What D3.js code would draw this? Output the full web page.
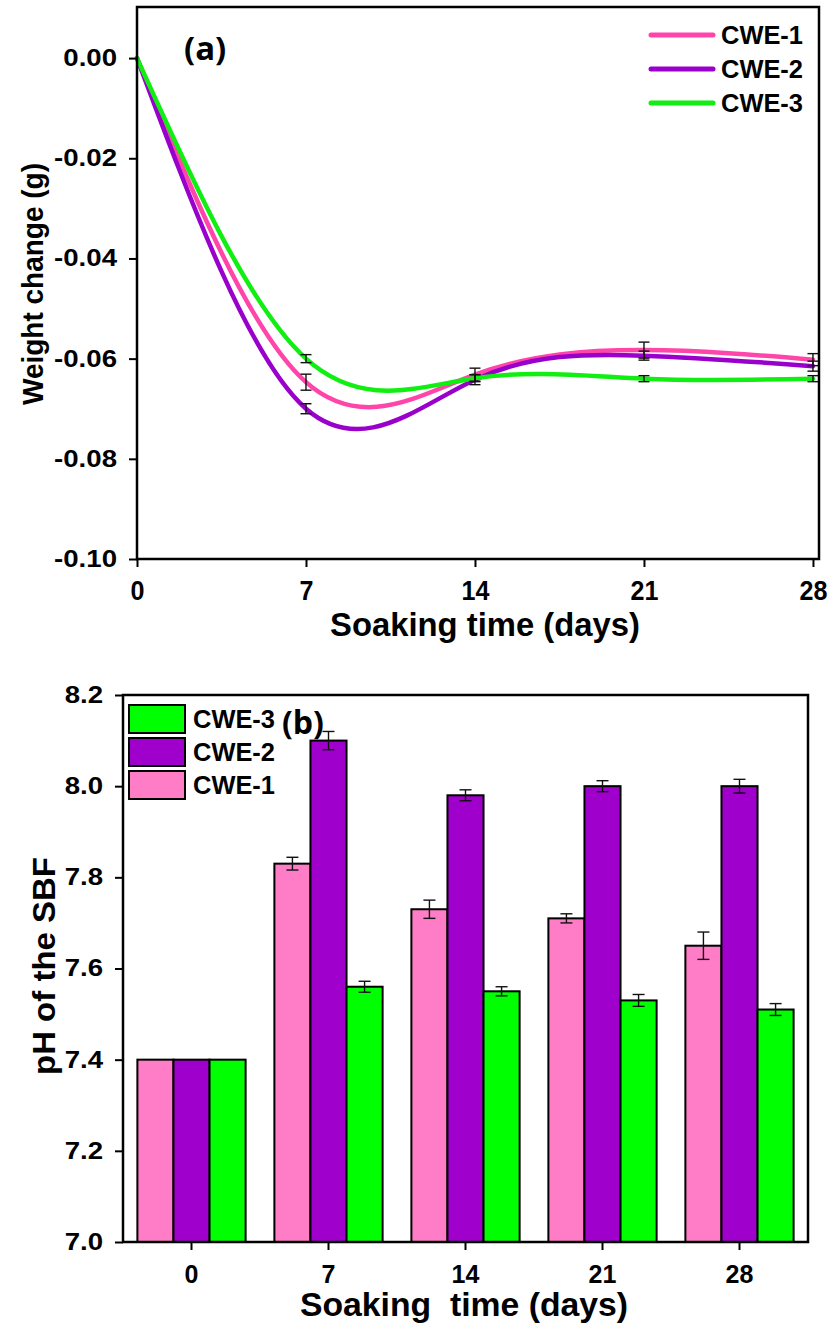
<!DOCTYPE html>
<html>
<head>
<meta charset="utf-8">
<script src="https://cdn.jsdelivr.net/npm/d3@7"></script>
<style>
  html, body { margin: 0; padding: 0; background: #fff; }
  svg { display: block; }
  text { font-family: "Liberation Sans", Arial, sans-serif; font-weight: bold; fill: #000; }
</style>
</head>
<body>
<svg id="fig" width="829" height="1324"></svg>
<script>
// ---------- data ----------
const days = [0, 7, 14, 21, 28];
const seriesNames = ["CWE-1", "CWE-2", "CWE-3"];
const seriesColors = ["#ff45aa", "#9a00cc", "#11ee11"];
const barColors = ["#ff7dc6", "#a000cc", "#00ff00"];

// (a) weight change (g) and its error
const weightCWE1 = [0, -0.0647, -0.0632, -0.0583, -0.0602];
const weightCWE2 = [0, -0.0700, -0.0642, -0.0594, -0.0615];
const weightCWE3 = [0, -0.0600, -0.0639, -0.0640, -0.0640];
const weightErrCWE1 = [0, 0.0016, 0.0013, 0.0016, 0.0012];
const weightErrCWE2 = [0, 0.0010, 0.0010, 0.0009, 0.0010];
const weightErrCWE3 = [0, 0.0008, 0.0007, 0.0006, 0.0006];
const weightTicks = [0.00, -0.02, -0.04, -0.06, -0.08, -0.10];

// (b) pH of the SBF and its error
const phCWE1 = [7.40, 7.83, 7.73, 7.71, 7.65];
const phCWE2 = [7.40, 8.10, 7.98, 8.00, 8.00];
const phCWE3 = [7.40, 7.56, 7.55, 7.53, 7.51];
const phErrCWE1 = [0, 0.014, 0.020, 0.010, 0.030];
const phErrCWE2 = [0, 0.020, 0.012, 0.012, 0.015];
const phErrCWE3 = [0, 0.012, 0.010, 0.013, 0.013];
const phTicks = [7.0, 7.2, 7.4, 7.6, 7.8, 8.0, 8.2];

const svg = d3.select("#fig");

// stretch or squeeze a text element horizontally by a factor
function widen(sel, factor) {
  sel.each(function () {
    const w = this.getComputedTextLength();
    d3.select(this).attr("textLength", w * factor).attr("lengthAdjust", "spacingAndGlyphs");
  });
}
// fit a text element to a given length
function fitTo(sel, len) {
  sel.attr("textLength", len).attr("lengthAdjust", "spacingAndGlyphs");
}

function styleAxis(ax, size, factor) {
  ax.select(".domain").remove();
  ax.selectAll(".tick line").attr("stroke", "#000").attr("stroke-width", 2);
  const t = ax.selectAll(".tick text").attr("font-size", size).attr("fill", "#000")
    .style("font-family", '"Liberation Sans", Arial, sans-serif').style("font-weight", "bold");
  widen(t, factor);
}

// ================= (a) line chart =================
const A = { left: 137, right: 819, top: 7, bottom: 559 };
const xA = d3.scaleLinear().domain([0, 28.25]).range([A.left, A.right]);
const yA = d3.scaleLinear().domain([-0.10, 0.0102]).range([A.bottom, A.top]);

const gA = svg.append("g");

const weightSeries = [
  { name: seriesNames[0], color: seriesColors[0], vals: weightCWE1, err: weightErrCWE1 },
  { name: seriesNames[1], color: seriesColors[1], vals: weightCWE2, err: weightErrCWE2 },
  { name: seriesNames[2], color: seriesColors[2], vals: weightCWE3, err: weightErrCWE3 }
];

const lineA = d3.line()
  .x((d, i) => xA(days[i]))
  .y(d => yA(d))
  .curve(d3.curveNatural);

gA.selectAll("path.series")
  .data(weightSeries)
  .join("path")
  .attr("class", "series")
  .attr("fill", "none")
  .attr("stroke", d => d.color)
  .attr("stroke-width", 4.5)
  .attr("stroke-linecap", "round")
  .attr("d", d => lineA(d.vals));

// error bars
weightSeries.forEach(s => {
  const pts = days.map((dd, i) => ({ x: dd, v: s.vals[i], e: s.err[i] })).filter(p => p.e > 0);
  const g = gA.append("g").attr("stroke", "#111").attr("stroke-width", 1.4).attr("fill", "none");
  pts.forEach(p => {
    const cx = xA(p.x);
    g.append("line").attr("x1", cx).attr("x2", cx).attr("y1", yA(p.v + p.e)).attr("y2", yA(p.v - p.e));
    g.append("line").attr("x1", cx - 5.5).attr("x2", cx + 5.5).attr("y1", yA(p.v + p.e)).attr("y2", yA(p.v + p.e));
    g.append("line").attr("x1", cx - 5.5).attr("x2", cx + 5.5).attr("y1", yA(p.v - p.e)).attr("y2", yA(p.v - p.e));
  });
});

// frame
gA.append("rect")
  .attr("x", A.left).attr("y", A.top)
  .attr("width", A.right - A.left).attr("height", A.bottom - A.top)
  .attr("fill", "none").attr("stroke", "#000").attr("stroke-width", 2.5);

// axes
const axAx = gA.append("g").attr("transform", `translate(0,${A.bottom})`)
  .call(d3.axisBottom(xA).tickValues(days).tickSize(8).tickPadding(14).tickFormat(d3.format("d")));
const axAy = gA.append("g").attr("transform", `translate(${A.left},0)`)
  .call(d3.axisLeft(yA).tickValues(weightTicks).tickSize(8).tickPadding(12)
    .tickFormat(d => d3.format(".2f")(d).replace("\u2212", "-")));
styleAxis(axAx, 27, 0.93);
styleAxis(axAy, 23, 1.2);

fitTo(gA.append("text")
  .attr("x", 485).attr("y", 636)
  .attr("text-anchor", "middle").attr("font-size", 34)
  .text("Soaking time (days)"), 310);
fitTo(gA.append("text")
  .attr("transform", `translate(43,284) rotate(-90)`)
  .attr("text-anchor", "middle").attr("font-size", 30)
  .text("Weight change (g)"), 242);

gA.append("text")
  .attr("x", 184).attr("y", 60)
  .attr("font-size", 33)
  .style("font-family", '"Open Sans", sans-serif')
  .text("(a)");

// legend (a)
const legA = gA.append("g");
weightSeries.forEach((s, i) => {
  const ly = 35 + i * 34;
  legA.append("line").attr("x1", 651).attr("x2", 713).attr("y1", ly).attr("y2", ly)
    .attr("stroke", s.color).attr("stroke-width", 5).attr("stroke-linecap", "round");
  fitTo(legA.append("text").attr("x", 721).attr("y", ly + 9).attr("font-size", 25).text(s.name), 82);
});

// ================= (b) grouped bar chart =================
const B = { left: 123, right: 808, top: 695, bottom: 1242 };
const xB = d3.scaleBand().domain(days).range([B.left, B.right]).paddingInner(0.21).paddingOuter(0.105);
const xSub = d3.scaleBand().domain(seriesNames).range([0, xB.bandwidth()]);
const yB = d3.scaleLinear().domain([7.0, 8.2]).range([B.bottom, B.top]);

const gB = svg.append("g");

const phSeries = [
  { name: seriesNames[0], color: barColors[0], vals: phCWE1, err: phErrCWE1 },
  { name: seriesNames[1], color: barColors[1], vals: phCWE2, err: phErrCWE2 },
  { name: seriesNames[2], color: barColors[2], vals: phCWE3, err: phErrCWE3 }
];

const barData = [];
days.forEach((dd, i) => phSeries.forEach(s => barData.push({ day: dd, name: s.name, color: s.color, v: s.vals[i], e: s.err[i] })));

gB.selectAll("rect.bar")
  .data(barData)
  .join("rect")
  .attr("class", "bar")
  .attr("x", d => xB(d.day) + xSub(d.name))
  .attr("width", xSub.bandwidth())
  .attr("y", d => yB(d.v))
  .attr("height", d => yB(7.0) - yB(d.v))
  .attr("fill", d => d.color)
  .attr("stroke", "#000").attr("stroke-width", 2);

const errB = gB.append("g").attr("stroke", "#111").attr("stroke-width", 1.4);
barData.filter(d => d.e > 0).forEach(d => {
  const cx = xB(d.day) + xSub(d.name) + xSub.bandwidth() / 2;
  errB.append("line").attr("x1", cx).attr("x2", cx).attr("y1", yB(d.v + d.e)).attr("y2", yB(d.v - d.e));
  errB.append("line").attr("x1", cx - 6).attr("x2", cx + 6).attr("y1", yB(d.v + d.e)).attr("y2", yB(d.v + d.e));
  errB.append("line").attr("x1", cx - 6).attr("x2", cx + 6).attr("y1", yB(d.v - d.e)).attr("y2", yB(d.v - d.e));
});

gB.append("rect")
  .attr("x", B.left).attr("y", B.top)
  .attr("width", B.right - B.left).attr("height", B.bottom - B.top)
  .attr("fill", "none").attr("stroke", "#000").attr("stroke-width", 2.5);

const axBx = gB.append("g").attr("transform", `translate(0,${B.bottom})`)
  .call(d3.axisBottom(xB).tickSize(8).tickPadding(15));
const axBy = gB.append("g").attr("transform", `translate(${B.left},0)`)
  .call(d3.axisLeft(yB).tickValues(phTicks).tickSize(8).tickPadding(12).tickFormat(d3.format(".1f")));
styleAxis(axBx, 25, 1.0);
styleAxis(axBy, 23, 1.2);

fitTo(gB.append("text")
  .attr("x", 464).attr("y", 1316)
  .attr("text-anchor", "middle").attr("font-size", 34)
  .style("white-space", "pre")
  .text("Soaking\u00a0 time (days)"), 328);
fitTo(gB.append("text")
  .attr("transform", `translate(55,966) rotate(-90)`)
  .attr("text-anchor", "middle").attr("font-size", 32)
  .text("pH of the SBF"), 218);

gB.append("text")
  .attr("x", 282).attr("y", 734)
  .attr("font-size", 32)
  .style("font-family", '"Open Sans", sans-serif')
  .text("(b)");

// legend (b): listed in reverse order
const legB = gB.append("g");
phSeries.slice().reverse().forEach((s, i) => {
  const ly = 705 + i * 33;
  legB.append("rect").attr("x", 129).attr("y", ly).attr("width", 56).attr("height", 28)
    .attr("fill", s.color).attr("stroke", "#000").attr("stroke-width", 2);
  fitTo(legB.append("text").attr("x", 193).attr("y", ly + 23).attr("font-size", 25).text(s.name), 82);
});
</script>
</body>
</html>
